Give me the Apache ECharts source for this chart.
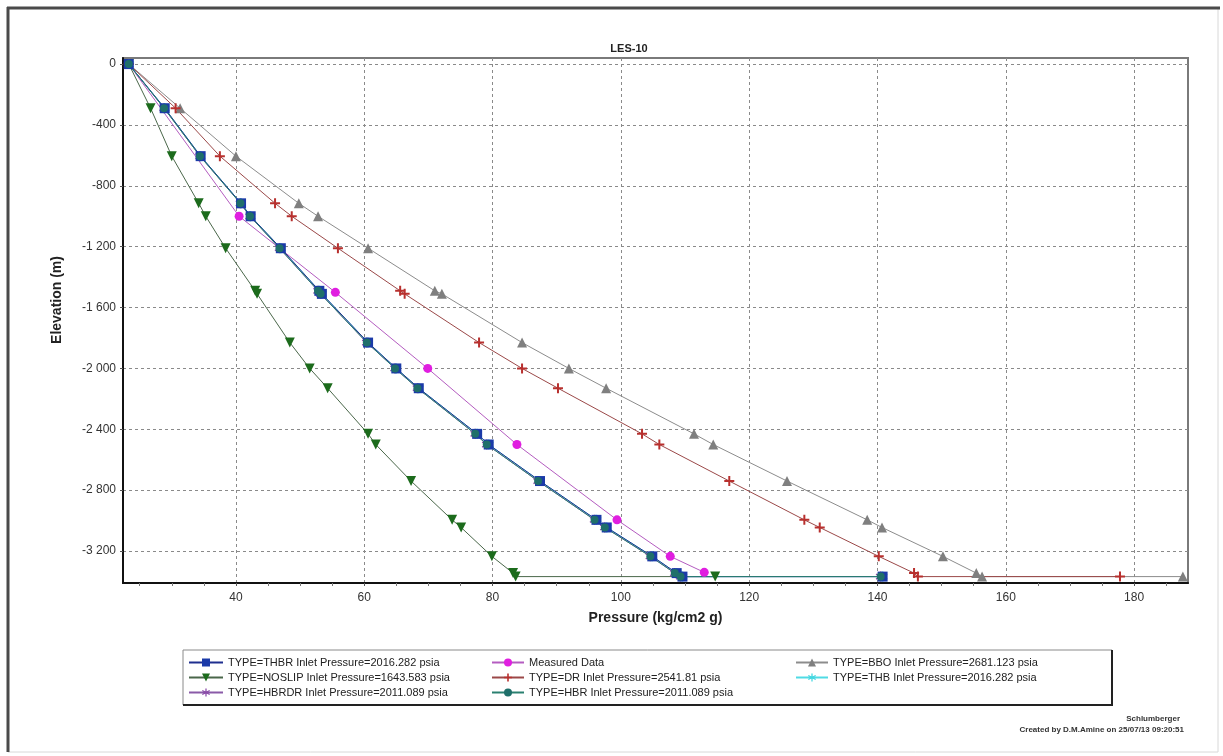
<!DOCTYPE html>
<html>
<head>
<meta charset="utf-8">
<title>LES-10</title>
<script src="https://cdn.jsdelivr.net/npm/echarts@6/dist/echarts.min.js"></script>
<style>
  html, body { margin: 0; padding: 0; background: #fff; }
  #chart { width: 1223px; height: 756px; }
</style>
</head>
<body>
<div id="chart"></div>
<script>
// depth nodes shared by the model curves (m)
const depthNodes = [0, -290, -605, -915, -1000, -1210, -1490, -1510, -1830, -2000, -2130, -2430, -2500, -2740, -2995, -3045, -3235, -3345, -3368, -3368];

// pressures (kg/cm2 g) at each node
const thbrP = [23.3, 28.9, 34.5, 40.8, 42.3, 47.0, 53.0, 53.4, 60.6, 65.0, 68.5, 77.6, 79.4, 87.4, 96.2, 97.8, 104.9, 108.7, 109.6, 140.8];
const thbP = [23.3, 28.9, 34.5, 40.8, 42.3, 47.0, 53.0, 53.4, 60.6, 65.0, 68.5, 77.6, 79.4, 87.4, 96.2, 97.8, 104.9, 108.7, 109.6, 140.8];
const hbrP = [23.3, 28.8, 34.4, 40.7, 42.2, 46.8, 52.8, 53.2, 60.4, 64.8, 68.3, 77.3, 79.1, 87.1, 95.9, 97.5, 104.6, 108.4, 109.3, 140.5];
const hbrdrP = [23.3, 28.8, 34.4, 40.7, 42.2, 46.8, 52.8, 53.2, 60.4, 64.8, 68.3, 77.3, 79.1, 87.1, 95.9, 97.5, 104.6, 108.4, 109.3, 140.5];
const noslipP = [23.3, 26.7, 30.0, 34.2, 35.3, 38.4, 43.0, 43.3, 48.4, 51.5, 54.3, 60.6, 61.8, 67.3, 73.7, 75.1, 79.9, 83.2, 83.6, 114.7];
const drP = [23.3, 30.6, 37.5, 46.1, 48.7, 55.9, 65.6, 66.3, 77.9, 84.6, 90.2, 103.3, 106.0, 116.9, 128.6, 131.0, 140.2, 145.7, 146.3, 177.8];
const bboP = [23.3, 31.3, 40.0, 49.8, 52.8, 60.6, 71.0, 72.1, 84.6, 91.9, 97.7, 111.4, 114.4, 125.9, 138.4, 140.7, 150.2, 155.4, 156.3, 187.6];

// measured survey
const measuredDepth = [0, -1000, -1500, -2000, -2500, -2995, -3235, -3340];
const measuredP = [23.3, 40.5, 55.5, 69.9, 83.8, 99.4, 107.7, 113.0];

// axis ticks
const xLabels = [40, 60, 80, 100, 120, 140, 160, 180];
const xMinorTicks = [25, 30, 35, 45, 50, 55, 65, 70, 75, 85, 90, 95, 105, 110, 115, 125, 130, 135, 145, 150, 155, 165, 170, 175, 185];
const yLabels = [0, -400, -800, -1200, -1600, -2000, -2400, -2800, -3200];

const names = {
  thbr: 'TYPE=THBR Inlet Pressure=2016.282 psia',
  noslip: 'TYPE=NOSLIP Inlet Pressure=1643.583 psia',
  hbrdr: 'TYPE=HBRDR Inlet Pressure=2011.089 psia',
  measured: 'Measured Data',
  dr: 'TYPE=DR Inlet Pressure=2541.81 psia',
  hbr: 'TYPE=HBR Inlet Pressure=2011.089 psia',
  bbo: 'TYPE=BBO Inlet Pressure=2681.123 psia',
  thb: 'TYPE=THB Inlet Pressure=2016.282 psia'
};

const plusSymbol = 'path://M4,0H6V4H10V6H6V10H4V6H0V4H4Z';
const starSymbol = 'path://M4.3,0H5.7V3.6L8.8,1.8L9.5,3L6.4,4.8L9.5,6.6L8.8,7.8L5.7,6V9.6H4.3V6L1.2,7.8L0.5,6.6L3.6,4.8L0.5,3L1.2,1.8L4.3,3.6Z';

const toPts = (arr, depths) => arr.map((p, i) => [p, depths[i]]);

// "-1 200" style labels
const fmtDepth = (v) => {
  const s = Math.abs(v).toString();
  const t = s.length > 3 ? s.slice(0, -3) + ' ' + s.slice(-3) : s;
  return (v < 0 ? '-' : '') + t;
};

const mkLine = (name, data, color, lineColor, symbol, size, extra) => Object.assign({
  name: name,
  type: 'line',
  data: data,
  symbol: symbol,
  symbolSize: size,
  showAllSymbol: true,
  lineStyle: { color: lineColor, width: 1 },
  itemStyle: { color: color },
  emphasis: { disabled: true }
}, extra || {});

const chart = echarts.init(document.getElementById('chart'));
const FONT = 'Liberation Sans';

const option = {
  animation: false,
  backgroundColor: '#fff',
  textStyle: { fontFamily: FONT },
  title: {
    text: 'LES-10',
    left: 624, top: 38,
    textAlign: 'center',
    textStyle: { fontSize: 11, fontWeight: 'bold', color: '#222', fontFamily: FONT }
  },
  grid: {
    left: 123, top: 58, width: 1065, height: 525,
    show: true, borderColor: '#7a7a7a', borderWidth: 2, backgroundColor: '#fff'
  },
  xAxis: [{
    type: 'value', min: 22.4, max: 188.4, position: 'bottom',
    name: 'Pressure (kg/cm2 g)', nameLocation: 'middle', nameGap: 28,
    nameTextStyle: { fontSize: 14, fontWeight: 'bold', color: '#222', fontFamily: FONT },
    axisLine: { onZero: false, lineStyle: { color: '#111', width: 2 } },
    axisTick: { customValues: xLabels, length: 3, lineStyle: { color: '#555' } },
    axisLabel: { customValues: xLabels, color: '#333', fontSize: 12, margin: 9 },
    splitLine: { show: true, lineStyle: { color: '#8a8a8a', width: 1, type: [3, 3] } }
  }, {
    // minor ticks only: a top axis pushed down onto the bottom edge
    type: 'value', min: 22.4, max: 188.4, position: 'top', offset: -525,
    axisLine: { show: false },
    axisTick: { customValues: xMinorTicks, inside: true, length: 3, lineStyle: { color: '#777' } },
    axisLabel: { show: false },
    splitLine: { show: false }
  }],
  yAxis: {
    type: 'value', min: -3410, max: 40,
    axisLine: { onZero: false, lineStyle: { color: '#111', width: 2 } },
    axisTick: { customValues: yLabels, length: 3, lineStyle: { color: '#555' } },
    axisLabel: { customValues: yLabels, color: '#333', fontSize: 12, margin: 7, formatter: fmtDepth },
    splitLine: { show: true, lineStyle: { color: '#8a8a8a', width: 1, type: [3, 3] } }
  },
  legend: [{
    orient: 'vertical', left: 183, top: 652, itemGap: 4, itemWidth: 34, itemHeight: 10,
    textStyle: { fontSize: 11, color: '#222', fontFamily: FONT },
    data: [names.thbr, names.noslip, names.hbrdr]
  }, {
    orient: 'vertical', left: 486, top: 652, itemGap: 4, itemWidth: 32, itemHeight: 10,
    textStyle: { fontSize: 11, color: '#222', fontFamily: FONT },
    data: [names.measured, names.dr, names.hbr]
  }, {
    orient: 'vertical', left: 790, top: 652, itemGap: 4, itemWidth: 32, itemHeight: 10,
    textStyle: { fontSize: 11, color: '#222', fontFamily: FONT },
    data: [names.bbo, names.thb]
  }],
  graphic: [
    // outer frame
    { type: 'rect', shape: { x: 8, y: 8, width: 1210, height: 744 }, style: { fill: 'none', stroke: '#d8d8d8', lineWidth: 1 }, silent: true },
    { type: 'line', shape: { x1: 7, y1: 8, x2: 1220, y2: 8 }, style: { stroke: '#4a4a4a', lineWidth: 3 }, silent: true },
    { type: 'line', shape: { x1: 8, y1: 7, x2: 8, y2: 752 }, style: { stroke: '#4a4a4a', lineWidth: 3 }, silent: true },
    // legend box: light top/left, dark bottom/right
    { type: 'rect', shape: { x: 183, y: 650, width: 929, height: 55 }, style: { fill: 'none', stroke: '#8a8a8a', lineWidth: 1 }, silent: true, z: -1 },
    { type: 'polyline', shape: { points: [[183, 705], [1112, 705], [1112, 650]] }, style: { stroke: '#222', lineWidth: 2, fill: 'none' }, silent: true, z: -1 },
    // y axis title
    {
      type: 'text', x: 57, y: 300, rotation: Math.PI / 2,
      style: { text: 'Elevation (m)', font: 'bold 14px "Liberation Sans"', fill: '#222', align: 'center', verticalAlign: 'middle' },
      silent: true
    },
    {
      type: 'text', x: 1180, y: 719,
      style: { text: 'Schlumberger', font: 'bold 8px "Liberation Sans"', fill: '#333', align: 'right', verticalAlign: 'middle' },
      silent: true
    },
    {
      type: 'text', x: 1184, y: 730,
      style: { text: 'Created by D.M.Amine on 25/07/13 09:20:51', font: 'bold 8px "Liberation Sans"', fill: '#333', align: 'right', verticalAlign: 'middle' },
      silent: true
    }
  ],
  series: [
    mkLine(names.bbo, toPts(bboP, depthNodes), '#7f7f7f', '#8c8c8c', 'triangle', 10),
    mkLine(names.dr, toPts(drP, depthNodes), '#b8302e', '#9b4848', plusSymbol, 10),
    mkLine(names.noslip, toPts(noslipP, depthNodes), '#1c6b1c', '#4a674a', 'triangle', 10, { symbolRotate: 180 }),
    mkLine(names.measured, toPts(measuredP, measuredDepth), '#e01ee0', '#b45cc0', 'circle', 9),
    mkLine(names.hbrdr, toPts(hbrdrP, depthNodes), '#8a4aa8', '#8a5aa8', starSymbol, 10),
    mkLine(names.thb, toPts(thbP, depthNodes), '#3fd6e0', '#4fdbe4', starSymbol, 10),
    mkLine(names.thbr, toPts(thbrP, depthNodes), '#1b3aa8', '#1f2f8f', 'rect', 10),
    mkLine(names.hbr, toPts(hbrP, depthNodes), '#1f6f6a', '#2a8070', 'circle', 8)
  ]
};

chart.setOption(option);
</script>
</body>
</html>
